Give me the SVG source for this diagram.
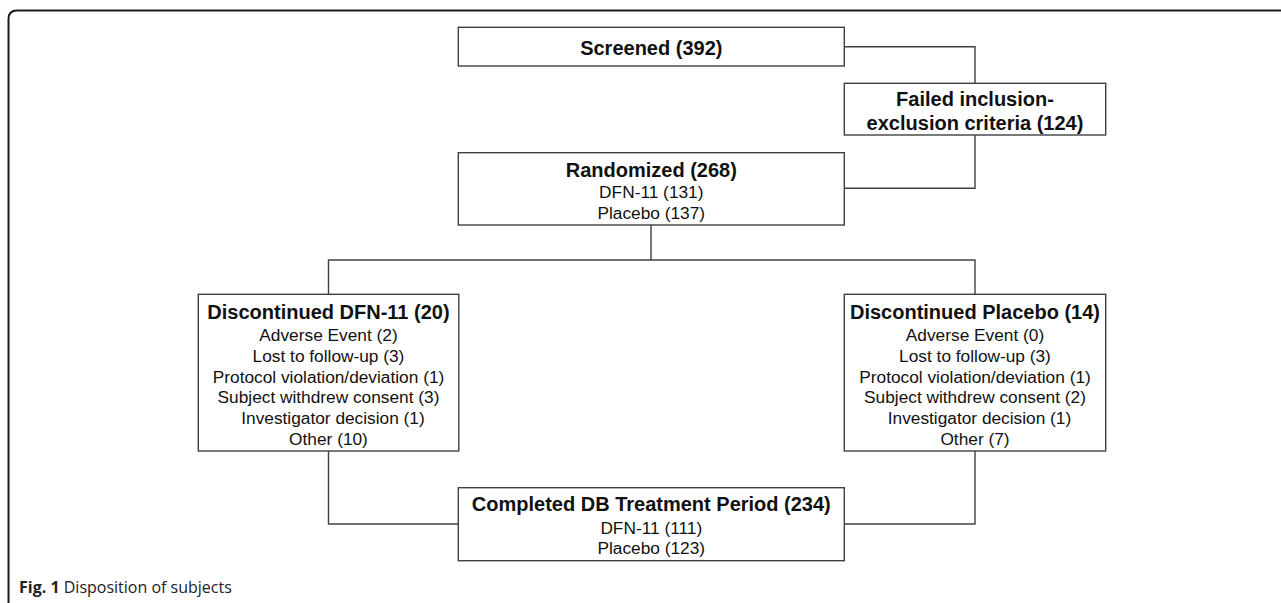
<svg xmlns="http://www.w3.org/2000/svg" width="1281" height="603" viewBox="0 0 1281 603">
<style>
.box{fill:#ffffff;stroke:#404040;stroke-width:1.4}
.ln{fill:none;stroke:#404040;stroke-width:1.4}
.t{font-family:"Liberation Sans",Arial,sans-serif;fill:#111111;text-anchor:middle}
.b{font-size:20px;font-weight:bold}
.r{font-size:17.3px}
.cap{font-family:"Open Sans","Noto Sans",sans-serif;font-size:16px;fill:#222222}
</style>
<rect x="0" y="0" width="1281" height="603" fill="#ffffff"/>
<path d="M8.5 603 V19 Q8.5 10.5 17 10.5 H1281" fill="none" stroke="#1a1a1a" stroke-width="2"/>
<g id="connectors">
<polyline class="ln" points="844.3,46.7 975,46.7 975,83.3"/>
<polyline class="ln" points="975,135 975,188.3 844.3,188.3"/>
<line class="ln" x1="651" y1="225" x2="651" y2="260"/>
<polyline class="ln" points="328.5,294.3 328.5,260 975,260 975,294.3"/>
<polyline class="ln" points="328.5,451 328.5,524 458.3,524"/>
<polyline class="ln" points="975,451 975,524 844.3,524"/>
</g>
<g id="screened">
<rect class="box" x="458.3" y="27.3" width="386" height="38.7"/>
<text class="t b" x="651.3" y="55">Screened (392)</text>
</g>
<g id="failed">
<rect class="box" x="844.3" y="83.3" width="261.4" height="51.7"/>
<text class="t b" x="975" y="106">Failed inclusion-</text>
<text class="t b" x="975" y="130">exclusion criteria (124)</text>
</g>
<g id="randomized">
<rect class="box" x="458.3" y="152.7" width="386" height="72.3"/>
<text class="t b" x="651.3" y="176.5">Randomized (268)</text>
<text class="t r" x="651.3" y="197.5">DFN-11 (131)</text>
<text class="t r" x="651.3" y="218.5">Placebo (137)</text>
</g>
<g id="disc-dfn">
<rect class="box" x="198.3" y="294.3" width="260.5" height="156.7"/>
<text class="t b" x="328.5" y="319">Discontinued DFN-11 (20)</text>
<text class="t r" x="328.5" y="341.2">Adverse Event (2)</text>
<text class="t r" x="328.5" y="361.9">Lost to follow-up (3)</text>
<text class="t r" x="328.5" y="382.5">Protocol violation/deviation (1)</text>
<text class="t r" x="328.5" y="403.2">Subject withdrew consent (3)</text>
<text class="t r" x="333" y="423.9">Investigator decision (1)</text>
<text class="t r" x="328.5" y="444.5">Other (10)</text>
</g>
<g id="disc-placebo">
<rect class="box" x="844.3" y="294.3" width="261.4" height="156.7"/>
<text class="t b" x="975" y="319">Discontinued Placebo (14)</text>
<text class="t r" x="975" y="341.2">Adverse Event (0)</text>
<text class="t r" x="975" y="361.9">Lost to follow-up (3)</text>
<text class="t r" x="975" y="382.5">Protocol violation/deviation (1)</text>
<text class="t r" x="975" y="403.2">Subject withdrew consent (2)</text>
<text class="t r" x="979.5" y="423.9">Investigator decision (1)</text>
<text class="t r" x="975" y="444.5">Other (7)</text>
</g>
<g id="completed">
<rect class="box" x="458.3" y="487.7" width="386" height="73"/>
<text class="t b" x="651.3" y="511">Completed DB Treatment Period (234)</text>
<text class="t r" x="651.3" y="533.5">DFN-11 (111)</text>
<text class="t r" x="651.3" y="553.5">Placebo (123)</text>
</g>
<text class="cap" x="19" y="592.5"><tspan font-weight="bold">Fig. 1</tspan> Disposition of subjects</text>
</svg>
